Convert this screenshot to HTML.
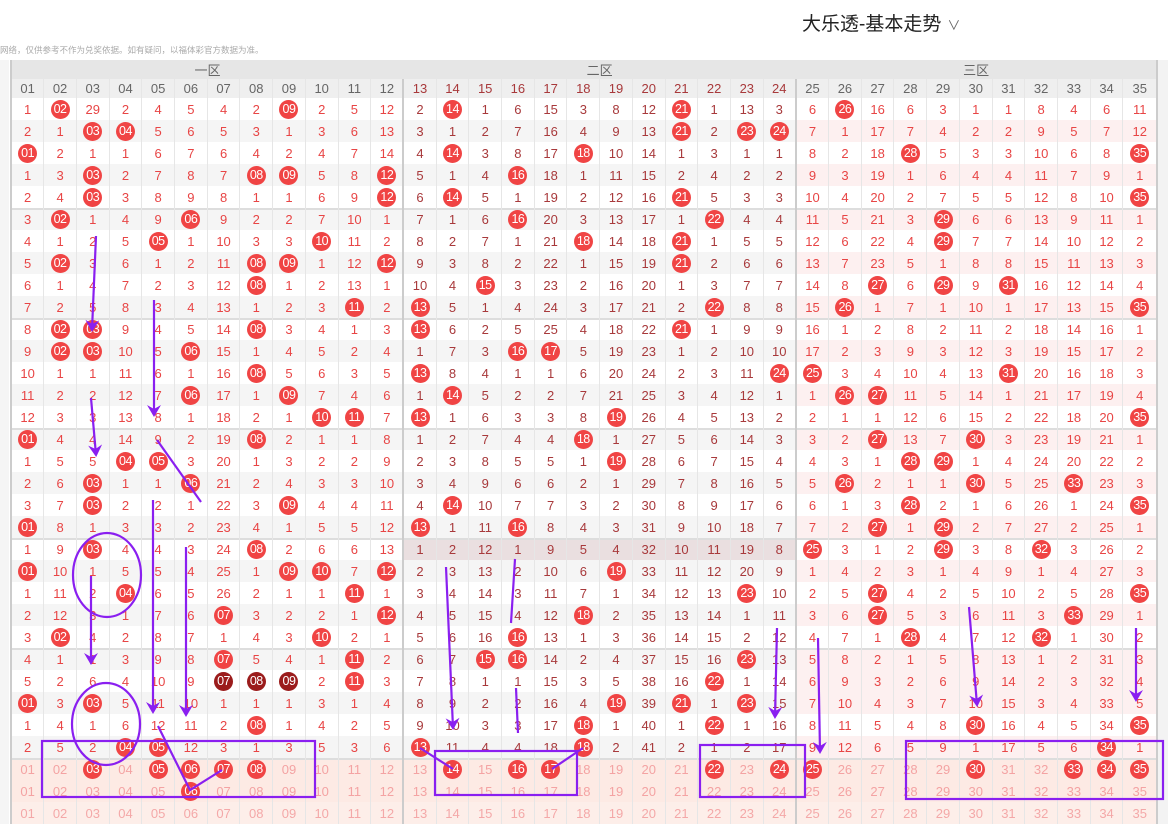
<!DOCTYPE html>
<html><head><meta charset="utf-8">
<style>
body{margin:0;width:1168px;height:833px;overflow:hidden;background:#fff;font-family:"Liberation Sans","Noto Sans CJK SC",sans-serif;position:relative}
.title{position:absolute;left:802px;top:9px;font-size:19px;color:#222}
.title span{font-size:13px;color:#666;margin-left:6px}
.note{position:absolute;left:0;top:44px;font-size:8.5px;color:#aaa;white-space:nowrap}
table{position:absolute;left:10px;top:60px;width:1146px;border-collapse:collapse;table-layout:fixed;font-size:13px}
td{text-align:center;padding:0;height:22px;color:#e84545;border-left:1px solid #e6e6e6;white-space:nowrap;overflow:visible;box-sizing:border-box}
thead td{color:#666;background:#efefef;height:19px;font-size:13px}
thead tr:first-child td{background:#e6e6e6}
tbody tr:nth-child(even) td{background:#f5f5f5}
tbody tr:nth-child(even) td:nth-child(n+25){background:#fdf0f0}
td:nth-child(n+13):nth-child(-n+24){color:#a8393b}
td:nth-child(12),td:nth-child(24){border-right:2px solid #ccc}
td:first-child{border-left:2px solid #ccc}
tr.g td{box-shadow:inset 0 2px 0 #ddd}
table tbody tr.p td{background:#fdeae4 !important;color:#f4a3a3 !important}
table tbody tr.q td{background:#fdeee9 !important;color:#f4a8a8 !important}
td i{display:inline-block;width:19px;height:19px;border-radius:50%;background:#f04444;color:#fff !important;font-style:normal;line-height:19px;font-size:12.5px;letter-spacing:-0.5px}
td i.d{background:#9b1c1c}
.right{position:absolute;left:1156px;top:60px;width:12px;height:764px;background:#f3f3f3;border-left:2px solid #ccc}
</style></head><body>
<div class="title">大乐透-基本走势<span>∨</span></div>
<div class="note">网络，仅供参考不作为兑奖依据。如有疑问，以福体彩官方数据为准。</div>
<div class="right"></div>
<div style="position:absolute;left:0;top:60px;width:9px;height:764px;background:#f5f5f5"></div>
<table>
<thead>
<tr><td colspan="12">一区</td><td colspan="12">二区</td><td colspan="11">三区</td></tr>
<tr><td>01</td><td>02</td><td>03</td><td>04</td><td>05</td><td>06</td><td>07</td><td>08</td><td>09</td><td>10</td><td>11</td><td>12</td><td>13</td><td>14</td><td>15</td><td>16</td><td>17</td><td>18</td><td>19</td><td>20</td><td>21</td><td>22</td><td>23</td><td>24</td><td>25</td><td>26</td><td>27</td><td>28</td><td>29</td><td>30</td><td>31</td><td>32</td><td>33</td><td>34</td><td>35</td></tr>
</thead>
<tbody>
<tr><td>1</td><td><i>02</i></td><td>29</td><td>2</td><td>4</td><td>5</td><td>4</td><td>2</td><td><i>09</i></td><td>2</td><td>5</td><td>12</td><td>2</td><td><i>14</i></td><td>1</td><td>6</td><td>15</td><td>3</td><td>8</td><td>12</td><td><i>21</i></td><td>1</td><td>13</td><td>3</td><td>6</td><td><i>26</i></td><td>16</td><td>6</td><td>3</td><td>1</td><td>1</td><td>8</td><td>4</td><td>6</td><td>11</td></tr>
<tr><td>2</td><td>1</td><td><i>03</i></td><td><i>04</i></td><td>5</td><td>6</td><td>5</td><td>3</td><td>1</td><td>3</td><td>6</td><td>13</td><td>3</td><td>1</td><td>2</td><td>7</td><td>16</td><td>4</td><td>9</td><td>13</td><td><i>21</i></td><td>2</td><td><i>23</i></td><td><i>24</i></td><td>7</td><td>1</td><td>17</td><td>7</td><td>4</td><td>2</td><td>2</td><td>9</td><td>5</td><td>7</td><td>12</td></tr>
<tr><td><i>01</i></td><td>2</td><td>1</td><td>1</td><td>6</td><td>7</td><td>6</td><td>4</td><td>2</td><td>4</td><td>7</td><td>14</td><td>4</td><td><i>14</i></td><td>3</td><td>8</td><td>17</td><td><i>18</i></td><td>10</td><td>14</td><td>1</td><td>3</td><td>1</td><td>1</td><td>8</td><td>2</td><td>18</td><td><i>28</i></td><td>5</td><td>3</td><td>3</td><td>10</td><td>6</td><td>8</td><td><i>35</i></td></tr>
<tr><td>1</td><td>3</td><td><i>03</i></td><td>2</td><td>7</td><td>8</td><td>7</td><td><i>08</i></td><td><i>09</i></td><td>5</td><td>8</td><td><i>12</i></td><td>5</td><td>1</td><td>4</td><td><i>16</i></td><td>18</td><td>1</td><td>11</td><td>15</td><td>2</td><td>4</td><td>2</td><td>2</td><td>9</td><td>3</td><td>19</td><td>1</td><td>6</td><td>4</td><td>4</td><td>11</td><td>7</td><td>9</td><td>1</td></tr>
<tr><td>2</td><td>4</td><td><i>03</i></td><td>3</td><td>8</td><td>9</td><td>8</td><td>1</td><td>1</td><td>6</td><td>9</td><td><i>12</i></td><td>6</td><td><i>14</i></td><td>5</td><td>1</td><td>19</td><td>2</td><td>12</td><td>16</td><td><i>21</i></td><td>5</td><td>3</td><td>3</td><td>10</td><td>4</td><td>20</td><td>2</td><td>7</td><td>5</td><td>5</td><td>12</td><td>8</td><td>10</td><td><i>35</i></td></tr>
<tr class="g"><td>3</td><td><i>02</i></td><td>1</td><td>4</td><td>9</td><td><i>06</i></td><td>9</td><td>2</td><td>2</td><td>7</td><td>10</td><td>1</td><td>7</td><td>1</td><td>6</td><td><i>16</i></td><td>20</td><td>3</td><td>13</td><td>17</td><td>1</td><td><i>22</i></td><td>4</td><td>4</td><td>11</td><td>5</td><td>21</td><td>3</td><td><i>29</i></td><td>6</td><td>6</td><td>13</td><td>9</td><td>11</td><td>1</td></tr>
<tr><td>4</td><td>1</td><td>2</td><td>5</td><td><i>05</i></td><td>1</td><td>10</td><td>3</td><td>3</td><td><i>10</i></td><td>11</td><td>2</td><td>8</td><td>2</td><td>7</td><td>1</td><td>21</td><td><i>18</i></td><td>14</td><td>18</td><td><i>21</i></td><td>1</td><td>5</td><td>5</td><td>12</td><td>6</td><td>22</td><td>4</td><td><i>29</i></td><td>7</td><td>7</td><td>14</td><td>10</td><td>12</td><td>2</td></tr>
<tr><td>5</td><td><i>02</i></td><td>3</td><td>6</td><td>1</td><td>2</td><td>11</td><td><i>08</i></td><td><i>09</i></td><td>1</td><td>12</td><td><i>12</i></td><td>9</td><td>3</td><td>8</td><td>2</td><td>22</td><td>1</td><td>15</td><td>19</td><td><i>21</i></td><td>2</td><td>6</td><td>6</td><td>13</td><td>7</td><td>23</td><td>5</td><td>1</td><td>8</td><td>8</td><td>15</td><td>11</td><td>13</td><td>3</td></tr>
<tr><td>6</td><td>1</td><td>4</td><td>7</td><td>2</td><td>3</td><td>12</td><td><i>08</i></td><td>1</td><td>2</td><td>13</td><td>1</td><td>10</td><td>4</td><td><i>15</i></td><td>3</td><td>23</td><td>2</td><td>16</td><td>20</td><td>1</td><td>3</td><td>7</td><td>7</td><td>14</td><td>8</td><td><i>27</i></td><td>6</td><td><i>29</i></td><td>9</td><td><i>31</i></td><td>16</td><td>12</td><td>14</td><td>4</td></tr>
<tr><td>7</td><td>2</td><td>5</td><td>8</td><td>3</td><td>4</td><td>13</td><td>1</td><td>2</td><td>3</td><td><i>11</i></td><td>2</td><td><i>13</i></td><td>5</td><td>1</td><td>4</td><td>24</td><td>3</td><td>17</td><td>21</td><td>2</td><td><i>22</i></td><td>8</td><td>8</td><td>15</td><td><i>26</i></td><td>1</td><td>7</td><td>1</td><td>10</td><td>1</td><td>17</td><td>13</td><td>15</td><td><i>35</i></td></tr>
<tr class="g"><td>8</td><td><i>02</i></td><td><i>03</i></td><td>9</td><td>4</td><td>5</td><td>14</td><td><i>08</i></td><td>3</td><td>4</td><td>1</td><td>3</td><td><i>13</i></td><td>6</td><td>2</td><td>5</td><td>25</td><td>4</td><td>18</td><td>22</td><td><i>21</i></td><td>1</td><td>9</td><td>9</td><td>16</td><td>1</td><td>2</td><td>8</td><td>2</td><td>11</td><td>2</td><td>18</td><td>14</td><td>16</td><td>1</td></tr>
<tr><td>9</td><td><i>02</i></td><td><i>03</i></td><td>10</td><td>5</td><td><i>06</i></td><td>15</td><td>1</td><td>4</td><td>5</td><td>2</td><td>4</td><td>1</td><td>7</td><td>3</td><td><i>16</i></td><td><i>17</i></td><td>5</td><td>19</td><td>23</td><td>1</td><td>2</td><td>10</td><td>10</td><td>17</td><td>2</td><td>3</td><td>9</td><td>3</td><td>12</td><td>3</td><td>19</td><td>15</td><td>17</td><td>2</td></tr>
<tr><td>10</td><td>1</td><td>1</td><td>11</td><td>6</td><td>1</td><td>16</td><td><i>08</i></td><td>5</td><td>6</td><td>3</td><td>5</td><td><i>13</i></td><td>8</td><td>4</td><td>1</td><td>1</td><td>6</td><td>20</td><td>24</td><td>2</td><td>3</td><td>11</td><td><i>24</i></td><td><i>25</i></td><td>3</td><td>4</td><td>10</td><td>4</td><td>13</td><td><i>31</i></td><td>20</td><td>16</td><td>18</td><td>3</td></tr>
<tr><td>11</td><td>2</td><td>2</td><td>12</td><td>7</td><td><i>06</i></td><td>17</td><td>1</td><td><i>09</i></td><td>7</td><td>4</td><td>6</td><td>1</td><td><i>14</i></td><td>5</td><td>2</td><td>2</td><td>7</td><td>21</td><td>25</td><td>3</td><td>4</td><td>12</td><td>1</td><td>1</td><td><i>26</i></td><td><i>27</i></td><td>11</td><td>5</td><td>14</td><td>1</td><td>21</td><td>17</td><td>19</td><td>4</td></tr>
<tr><td>12</td><td>3</td><td>3</td><td>13</td><td>8</td><td>1</td><td>18</td><td>2</td><td>1</td><td><i>10</i></td><td><i>11</i></td><td>7</td><td><i>13</i></td><td>1</td><td>6</td><td>3</td><td>3</td><td>8</td><td><i>19</i></td><td>26</td><td>4</td><td>5</td><td>13</td><td>2</td><td>2</td><td>1</td><td>1</td><td>12</td><td>6</td><td>15</td><td>2</td><td>22</td><td>18</td><td>20</td><td><i>35</i></td></tr>
<tr class="g"><td><i>01</i></td><td>4</td><td>4</td><td>14</td><td>9</td><td>2</td><td>19</td><td><i>08</i></td><td>2</td><td>1</td><td>1</td><td>8</td><td>1</td><td>2</td><td>7</td><td>4</td><td>4</td><td><i>18</i></td><td>1</td><td>27</td><td>5</td><td>6</td><td>14</td><td>3</td><td>3</td><td>2</td><td><i>27</i></td><td>13</td><td>7</td><td><i>30</i></td><td>3</td><td>23</td><td>19</td><td>21</td><td>1</td></tr>
<tr><td>1</td><td>5</td><td>5</td><td><i>04</i></td><td><i>05</i></td><td>3</td><td>20</td><td>1</td><td>3</td><td>2</td><td>2</td><td>9</td><td>2</td><td>3</td><td>8</td><td>5</td><td>5</td><td>1</td><td><i>19</i></td><td>28</td><td>6</td><td>7</td><td>15</td><td>4</td><td>4</td><td>3</td><td>1</td><td><i>28</i></td><td><i>29</i></td><td>1</td><td>4</td><td>24</td><td>20</td><td>22</td><td>2</td></tr>
<tr><td>2</td><td>6</td><td><i>03</i></td><td>1</td><td>1</td><td><i>06</i></td><td>21</td><td>2</td><td>4</td><td>3</td><td>3</td><td>10</td><td>3</td><td>4</td><td>9</td><td>6</td><td>6</td><td>2</td><td>1</td><td>29</td><td>7</td><td>8</td><td>16</td><td>5</td><td>5</td><td><i>26</i></td><td>2</td><td>1</td><td>1</td><td><i>30</i></td><td>5</td><td>25</td><td><i>33</i></td><td>23</td><td>3</td></tr>
<tr><td>3</td><td>7</td><td><i>03</i></td><td>2</td><td>2</td><td>1</td><td>22</td><td>3</td><td><i>09</i></td><td>4</td><td>4</td><td>11</td><td>4</td><td><i>14</i></td><td>10</td><td>7</td><td>7</td><td>3</td><td>2</td><td>30</td><td>8</td><td>9</td><td>17</td><td>6</td><td>6</td><td>1</td><td>3</td><td><i>28</i></td><td>2</td><td>1</td><td>6</td><td>26</td><td>1</td><td>24</td><td><i>35</i></td></tr>
<tr><td><i>01</i></td><td>8</td><td>1</td><td>3</td><td>3</td><td>2</td><td>23</td><td>4</td><td>1</td><td>5</td><td>5</td><td>12</td><td><i>13</i></td><td>1</td><td>11</td><td><i>16</i></td><td>8</td><td>4</td><td>3</td><td>31</td><td>9</td><td>10</td><td>18</td><td>7</td><td>7</td><td>2</td><td><i>27</i></td><td>1</td><td><i>29</i></td><td>2</td><td>7</td><td>27</td><td>2</td><td>25</td><td>1</td></tr>
<tr class="g"><td>1</td><td>9</td><td><i>03</i></td><td>4</td><td>4</td><td>3</td><td>24</td><td><i>08</i></td><td>2</td><td>6</td><td>6</td><td>13</td><td style="background:#eadfe0">1</td><td style="background:#eadfe0">2</td><td style="background:#eadfe0">12</td><td style="background:#eadfe0">1</td><td style="background:#eadfe0">9</td><td style="background:#eadfe0">5</td><td style="background:#eadfe0">4</td><td style="background:#eadfe0">32</td><td style="background:#eadfe0">10</td><td style="background:#eadfe0">11</td><td style="background:#eadfe0">19</td><td style="background:#eadfe0">8</td><td><i>25</i></td><td>3</td><td>1</td><td>2</td><td><i>29</i></td><td>3</td><td>8</td><td><i>32</i></td><td>3</td><td>26</td><td>2</td></tr>
<tr><td><i>01</i></td><td>10</td><td>1</td><td>5</td><td>5</td><td>4</td><td>25</td><td>1</td><td><i>09</i></td><td><i>10</i></td><td>7</td><td><i>12</i></td><td>2</td><td>3</td><td>13</td><td>2</td><td>10</td><td>6</td><td><i>19</i></td><td>33</td><td>11</td><td>12</td><td>20</td><td>9</td><td style="background:#fdf0f0">1</td><td style="background:#fdf0f0">4</td><td style="background:#fdf0f0">2</td><td style="background:#fdf0f0">3</td><td style="background:#fdf0f0">1</td><td style="background:#fdf0f0">4</td><td style="background:#fdf0f0">9</td><td style="background:#fdf0f0">1</td><td style="background:#fdf0f0">4</td><td style="background:#fdf0f0">27</td><td style="background:#fdf0f0">3</td></tr>
<tr><td>1</td><td>11</td><td>2</td><td><i>04</i></td><td>6</td><td>5</td><td>26</td><td>2</td><td>1</td><td>1</td><td><i>11</i></td><td>1</td><td>3</td><td>4</td><td>14</td><td>3</td><td>11</td><td>7</td><td>1</td><td>34</td><td>12</td><td>13</td><td><i>23</i></td><td>10</td><td>2</td><td>5</td><td><i>27</i></td><td>4</td><td>2</td><td>5</td><td>10</td><td>2</td><td>5</td><td>28</td><td><i>35</i></td></tr>
<tr><td>2</td><td>12</td><td>3</td><td>1</td><td>7</td><td>6</td><td><i>07</i></td><td>3</td><td>2</td><td>2</td><td>1</td><td><i>12</i></td><td>4</td><td>5</td><td>15</td><td>4</td><td>12</td><td><i>18</i></td><td>2</td><td>35</td><td>13</td><td>14</td><td>1</td><td>11</td><td>3</td><td>6</td><td><i>27</i></td><td>5</td><td>3</td><td>6</td><td>11</td><td>3</td><td><i>33</i></td><td>29</td><td>1</td></tr>
<tr><td>3</td><td><i>02</i></td><td>4</td><td>2</td><td>8</td><td>7</td><td>1</td><td>4</td><td>3</td><td><i>10</i></td><td>2</td><td>1</td><td>5</td><td>6</td><td>16</td><td><i>16</i></td><td>13</td><td>1</td><td>3</td><td>36</td><td>14</td><td>15</td><td>2</td><td>12</td><td>4</td><td>7</td><td>1</td><td><i>28</i></td><td>4</td><td>7</td><td>12</td><td><i>32</i></td><td>1</td><td>30</td><td>2</td></tr>
<tr class="g"><td>4</td><td>1</td><td>1</td><td>3</td><td>9</td><td>8</td><td><i>07</i></td><td>5</td><td>4</td><td>1</td><td><i>11</i></td><td>2</td><td>6</td><td>7</td><td><i>15</i></td><td><i>16</i></td><td>14</td><td>2</td><td>4</td><td>37</td><td>15</td><td>16</td><td><i>23</i></td><td>13</td><td style="background:#fdf0f0">5</td><td style="background:#fdf0f0">8</td><td style="background:#fdf0f0">2</td><td style="background:#fdf0f0">1</td><td style="background:#fdf0f0">5</td><td style="background:#fdf0f0">8</td><td style="background:#fdf0f0">13</td><td style="background:#fdf0f0">1</td><td style="background:#fdf0f0">2</td><td style="background:#fdf0f0">31</td><td style="background:#fdf0f0">3</td></tr>
<tr><td>5</td><td>2</td><td>6</td><td>4</td><td>10</td><td>9</td><td><i class="d">07</i></td><td><i class="d">08</i></td><td><i class="d">09</i></td><td>2</td><td><i>11</i></td><td>3</td><td>7</td><td>8</td><td>1</td><td>1</td><td>15</td><td>3</td><td>5</td><td>38</td><td>16</td><td><i>22</i></td><td>1</td><td>14</td><td style="background:#fdf0f0">6</td><td style="background:#fdf0f0">9</td><td style="background:#fdf0f0">3</td><td style="background:#fdf0f0">2</td><td style="background:#fdf0f0">6</td><td style="background:#fdf0f0">9</td><td style="background:#fdf0f0">14</td><td style="background:#fdf0f0">2</td><td style="background:#fdf0f0">3</td><td style="background:#fdf0f0">32</td><td style="background:#fdf0f0">4</td></tr>
<tr><td><i>01</i></td><td>3</td><td><i>03</i></td><td>5</td><td>11</td><td>10</td><td>1</td><td>1</td><td>1</td><td>3</td><td>1</td><td>4</td><td>8</td><td>9</td><td>2</td><td>2</td><td>16</td><td>4</td><td><i>19</i></td><td>39</td><td><i>21</i></td><td>1</td><td><i>23</i></td><td>15</td><td>7</td><td>10</td><td>4</td><td>3</td><td>7</td><td>10</td><td>15</td><td>3</td><td>4</td><td>33</td><td>5</td></tr>
<tr><td>1</td><td>4</td><td>1</td><td>6</td><td>12</td><td>11</td><td>2</td><td><i>08</i></td><td>1</td><td>4</td><td>2</td><td>5</td><td>9</td><td>10</td><td>3</td><td>3</td><td>17</td><td><i>18</i></td><td>1</td><td>40</td><td>1</td><td><i>22</i></td><td>1</td><td>16</td><td>8</td><td>11</td><td>5</td><td>4</td><td>8</td><td><i>30</i></td><td>16</td><td>4</td><td>5</td><td>34</td><td><i>35</i></td></tr>
<tr><td>2</td><td>5</td><td>2</td><td><i>04</i></td><td><i>05</i></td><td>12</td><td>3</td><td>1</td><td>3</td><td>5</td><td>3</td><td>6</td><td><i>13</i></td><td>11</td><td>4</td><td>4</td><td>18</td><td><i>18</i></td><td>2</td><td>41</td><td>2</td><td>1</td><td>2</td><td>17</td><td>9</td><td>12</td><td>6</td><td>5</td><td>9</td><td>1</td><td>17</td><td>5</td><td>6</td><td><i>34</i></td><td>1</td></tr>
<tr class="p g"><td>01</td><td>02</td><td><i>03</i></td><td>04</td><td><i>05</i></td><td><i>06</i></td><td><i>07</i></td><td><i>08</i></td><td>09</td><td>10</td><td>11</td><td>12</td><td>13</td><td><i>14</i></td><td>15</td><td><i>16</i></td><td><i>17</i></td><td>18</td><td>19</td><td>20</td><td>21</td><td><i>22</i></td><td>23</td><td><i>24</i></td><td><i>25</i></td><td>26</td><td>27</td><td>28</td><td>29</td><td><i>30</i></td><td>31</td><td>32</td><td><i>33</i></td><td><i>34</i></td><td><i>35</i></td></tr>
<tr class="p"><td>01</td><td>02</td><td>03</td><td>04</td><td>05</td><td><i>06</i></td><td>07</td><td>08</td><td>09</td><td>10</td><td>11</td><td>12</td><td>13</td><td>14</td><td>15</td><td>16</td><td>17</td><td>18</td><td>19</td><td>20</td><td>21</td><td>22</td><td>23</td><td>24</td><td>25</td><td>26</td><td>27</td><td>28</td><td>29</td><td>30</td><td>31</td><td>32</td><td>33</td><td>34</td><td>35</td></tr>
<tr class="q"><td>01</td><td>02</td><td>03</td><td>04</td><td>05</td><td>06</td><td>07</td><td>08</td><td>09</td><td>10</td><td>11</td><td>12</td><td>13</td><td>14</td><td>15</td><td>16</td><td>17</td><td>18</td><td>19</td><td>20</td><td>21</td><td>22</td><td>23</td><td>24</td><td>25</td><td>26</td><td>27</td><td>28</td><td>29</td><td>30</td><td>31</td><td>32</td><td>33</td><td>34</td><td>35</td></tr>
</tbody>
</table>
<svg style="position:absolute;left:0;top:0" width="1168" height="833">
<defs><marker id="a" markerWidth="16" markerHeight="16" refX="10" refY="8" orient="auto" markerUnits="userSpaceOnUse"><path d="M0,1 L12,8 L0,15 L4,8 Z" fill="#8a1ff0"/></marker></defs>
<g stroke="#8a1ff0" stroke-width="2.2" fill="none">
<line x1="96" y1="236" x2="92" y2="330" marker-end="url(#a)"/>
<line x1="154" y1="300" x2="154" y2="415" marker-end="url(#a)"/>
<line x1="91" y1="398" x2="96" y2="455" marker-end="url(#a)"/>
<line x1="157" y1="440" x2="201" y2="502"/>
<line x1="153" y1="500" x2="153" y2="712" marker-end="url(#a)"/>
<line x1="186" y1="547" x2="186" y2="715" marker-end="url(#a)"/>
<line x1="91" y1="576" x2="91" y2="663" marker-end="url(#a)"/>
<ellipse cx="107" cy="575" rx="34" ry="42"/>
<ellipse cx="106" cy="724" rx="34" ry="41"/>
<rect x="42" y="741" width="273" height="56"/>
<polyline points="158,726 190,790 222,770"/>
<line x1="446" y1="567" x2="453" y2="728" marker-end="url(#a)"/>
<line x1="515" y1="559" x2="511" y2="623"/>
<line x1="516" y1="688" x2="518" y2="733"/>
<rect x="435" y="751" width="142" height="44"/>
<line x1="420" y1="748" x2="453" y2="769"/>
<line x1="583" y1="748" x2="552" y2="769"/>
<rect x="700" y="745" width="105" height="52"/>
<line x1="777" y1="628" x2="775" y2="717" marker-end="url(#a)"/>
<line x1="818" y1="638" x2="820" y2="752" marker-end="url(#a)"/>
<line x1="969" y1="607" x2="977" y2="705" marker-end="url(#a)"/>
<line x1="1136" y1="628" x2="1136" y2="700" marker-end="url(#a)"/>
<rect x="906" y="741" width="257" height="58"/>
</g></svg>
</body></html>
